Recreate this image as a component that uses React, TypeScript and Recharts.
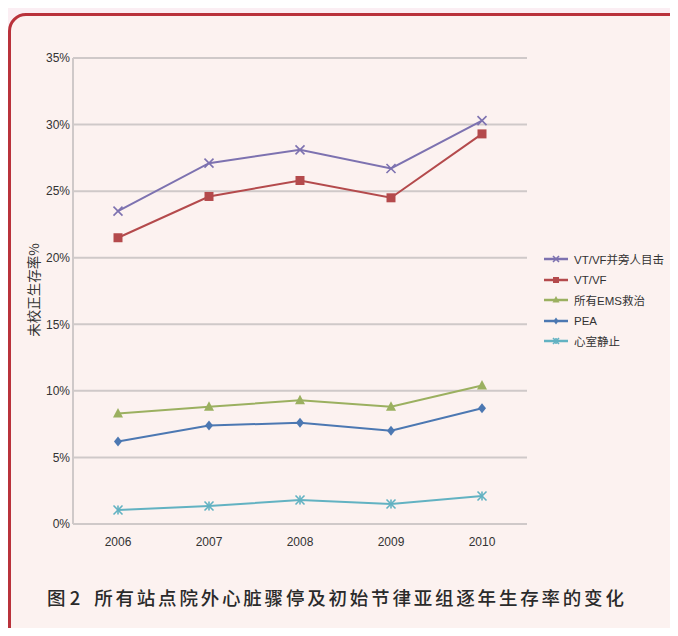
import React from "react";
import { LineChart, Line, XAxis, YAxis, CartesianGrid } from "recharts";

const years = ["2006", "2007", "2008", "2009", "2010"];
const vtvfBystander = [23.5, 27.1, 28.1, 26.7, 30.3];
const vtvf = [21.5, 24.6, 25.8, 24.5, 29.3];
const allEms = [8.3, 8.8, 9.3, 8.8, 10.4];
const pea = [6.2, 7.4, 7.6, 7.0, 8.7];
const asystole = [1.05, 1.35, 1.8, 1.5, 2.1];
const yTicks = [0, 5, 10, 15, 20, 25, 30, 35];

const data = years.map((year, i) => ({
  year,
  vtvfBystander: vtvfBystander[i],
  vtvf: vtvf[i],
  allEms: allEms[i],
  pea: pea[i],
  asystole: asystole[i],
}));

type Shape = "cross" | "square" | "triangle" | "diamond" | "star";

const series: { key: string; name: string; color: string; shape: Shape }[] = [
  { key: "vtvfBystander", name: "VT/VF并旁人目击", color: "#7d72b0", shape: "cross" },
  { key: "vtvf", name: "VT/VF", color: "#b44a4c", shape: "square" },
  { key: "allEms", name: "所有EMS救治", color: "#9bb060", shape: "triangle" },
  { key: "pea", name: "PEA", color: "#4c78b2", shape: "diamond" },
  { key: "asystole", name: "心室静止", color: "#62b2c2", shape: "star" },
];

function marker(shape: Shape, cx: number, cy: number, color: string, s = 4.5) {
  switch (shape) {
    case "cross":
      return (
        <g stroke={color} strokeWidth={1.6}>
          <line x1={cx - s} y1={cy - s} x2={cx + s} y2={cy + s} />
          <line x1={cx - s} y1={cy + s} x2={cx + s} y2={cy - s} />
        </g>
      );
    case "square":
      return <rect x={cx - s} y={cy - s} width={s * 2} height={s * 2} fill={color} />;
    case "triangle":
      return (
        <polygon
          points={`${cx},${cy - s - 1} ${cx + s + 0.5},${cy + s - 0.5} ${cx - s - 0.5},${cy + s - 0.5}`}
          fill={color}
        />
      );
    case "diamond":
      return (
        <polygon
          points={`${cx},${cy - s - 0.5} ${cx + s - 0.5},${cy} ${cx},${cy + s + 0.5} ${cx - s + 0.5},${cy}`}
          fill={color}
        />
      );
    default:
      return (
        <g stroke={color} strokeWidth={1.6}>
          <line x1={cx - s} y1={cy - s} x2={cx + s} y2={cy + s} />
          <line x1={cx - s} y1={cy + s} x2={cx + s} y2={cy - s} />
          <line x1={cx} y1={cy - s} x2={cx} y2={cy + s} />
        </g>
      );
  }
}

const makeDot = (shape: Shape, color: string) => (props: any) => {
  const { cx, cy, index } = props;
  if (cx == null || cy == null) return <g key={index} />;
  return <g key={index}>{marker(shape, cx, cy, color)}</g>;
};

export default function App() {
  return (
    <div
      style={{
        position: "relative",
        width: 678,
        height: 636,
        margin: -8,
        overflow: "hidden",
        background: "#fbeef3",
        fontFamily: "'Liberation Sans', Arial, sans-serif",
      }}
    >
      <div
        style={{
          position: "absolute",
          left: 8,
          top: 13,
          width: 700,
          height: 640,
          border: "3px solid #b9323b",
          borderRadius: 18,
          background: "#fcf2f0",
          boxSizing: "border-box",
        }}
      />
      <div style={{ position: "absolute", left: 0, top: 0 }}>
        <LineChart
          width={678}
          height={560}
          data={data}
          margin={{ top: 58, right: 151, bottom: 6, left: 23 }}
        >
          <CartesianGrid vertical={false} stroke="#cfc9c9" strokeWidth={2} />
          <XAxis
            dataKey="year"
            padding={{ left: 45, right: 45 }}
            axisLine={{ stroke: "#cfc9c9", strokeWidth: 2 }}
            tickLine={false}
            tickMargin={7}
            height={30}
            tick={{ fill: "#333", fontSize: 12 }}
          />
          <YAxis
            domain={[0, 35]}
            ticks={yTicks}
            tickFormatter={(v) => `${v}%`}
            axisLine={{ stroke: "#cfc9c9", strokeWidth: 2 }}
            tickLine={false}
            tickSize={0}
            tickMargin={3}
            width={50}
            tick={{ fill: "#333", fontSize: 12 }}
          />
          {series.map((s) => (
            <Line
              key={s.key}
              dataKey={s.key}
              name={s.name}
              stroke={s.color}
              strokeWidth={2}
              dot={makeDot(s.shape, s.color)}
              activeDot={false}
              isAnimationActive={false}
            />
          ))}
        </LineChart>
      </div>
      <div
        style={{
          position: "absolute",
          left: 33,
          top: 290,
          transform: "translate(-50%, -50%) rotate(-90deg)",
          whiteSpace: "nowrap",
          fontSize: 13.5,
          color: "#333",
          fontFamily: "'Noto Sans CJK SC', sans-serif",
        }}
      >
        未校正生存率%
      </div>
      <div style={{ position: "absolute", left: 543, top: 249 }}>
        {series.map((s) => (
          <div
            key={s.key}
            style={{ display: "flex", alignItems: "center", height: 20.5 }}
          >
            <svg width={26} height={12} style={{ marginRight: 5 }}>
              <line x1={1} y1={6} x2={25} y2={6} stroke={s.color} strokeWidth={2.5} />
              {marker(s.shape, 13, 6, s.color, 3)}
            </svg>
            <span
              style={{
                fontSize: 11.5,
                color: "#333",
                fontFamily: "'Liberation Sans', 'Noto Sans CJK SC', sans-serif",
              }}
            >
              {s.name}
            </span>
          </div>
        ))}
      </div>
      <div
        style={{
          position: "absolute",
          left: 47,
          top: 584,
          fontSize: 18.5,
          fontWeight: 500,
          color: "#2a2a2a",
          fontFamily: "'Noto Sans CJK SC', sans-serif",
          whiteSpace: "nowrap",
        }}
      >
        <span>图&nbsp;2</span>
        <span style={{ marginLeft: 14, letterSpacing: 2.8 }}>
          所有站点院外心脏骤停及初始节律亚组逐年生存率的变化
        </span>
      </div>
    </div>
  );
}
